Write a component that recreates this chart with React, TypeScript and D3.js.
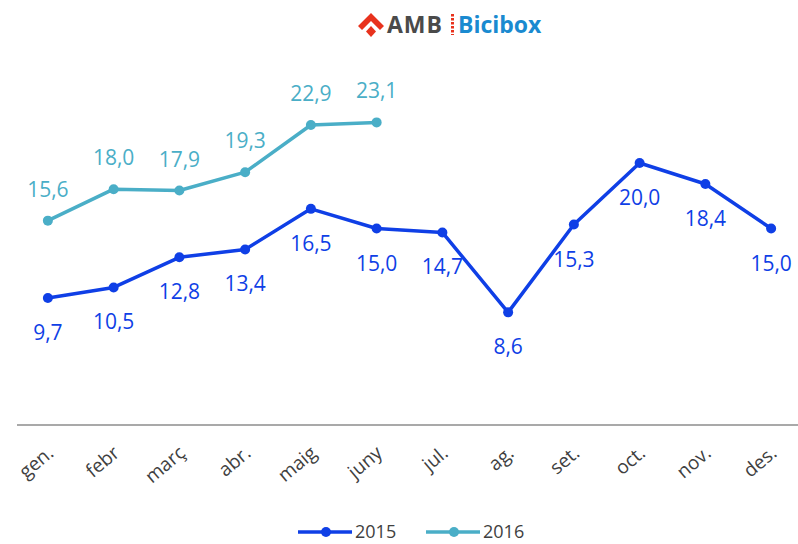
import React from "react";
import * as d3 from "d3";

const months = ["gen.", "febr", "març", "abr.", "maig", "juny", "jul.", "ag.", "set.", "oct.", "nov.", "des."];
const values2015 = [9.7, 10.5, 12.8, 13.4, 16.5, 15.0, 14.7, 8.6, 15.3, 20.0, 18.4, 15.0];
const values2016 = [15.6, 18.0, 17.9, 19.3, 22.9, 23.1];
const seriesNames = ["2015", "2016"];

const W = 798;
const H = 544;
const C2015 = "#0f3fe6";
const C2016 = "#4aaec7";
const FONT = "'Open Sans', 'Liberation Sans', sans-serif";

const fmt = (v: number) => v.toFixed(1).replace(".", ",");

export default function App() {
  const x = d3.scaleBand<string>().domain(months).range([15, 804]).padding(0);
  const cx = (m: string) => (x(m) as number) + x.bandwidth() / 2;
  const y = d3.scaleLinear().domain([0, 25]).range([425, 97.5]);

  const line = d3
    .line<[string, number]>()
    .x((d) => cx(d[0]))
    .y((d) => y(d[1]));

  const d2015: [string, number][] = values2015.map((v, i) => [months[i], v]);
  const d2016: [string, number][] = values2016.map((v, i) => [months[i], v]);

  return (
    <svg
      width={W}
      height={H}
      style={{ position: "absolute", left: 0, top: 0, background: "#fff" }}
      fontFamily={FONT}
    >
      {/* Logo */}
      <g>
        <path d="M371 13 L384 26 L380 30 L371 21 L362 30 L358 26 Z" fill="#e8321d" />
        <path d="M371 26 L376 31.5 L371 37 L366 31.5 Z" fill="#e8321d" />
        <text x={387} y={33} fontSize={23} fontWeight={700} fill="#4a4a4a" letterSpacing={1} fontFamily="'Open Sans', sans-serif">
          AMB
        </text>
        <line x1={452.5} y1={14} x2={452.5} y2={35} stroke="#e8321d" strokeWidth={3} strokeDasharray="2.5 1.5" />
        <text x={458} y={33} fontSize={23} fontWeight={700} fill="#1a8ad0" fontFamily="'Open Sans', sans-serif">
          Bicibox
        </text>
      </g>

      {/* Axis line */}
      <line x1={17} x2={798} y1={425} y2={425} stroke="#8c8c8c" strokeWidth={1.5} />

      {/* Axis labels */}
      {months.map((m) => (
        <text
          key={m}
          transform={`translate(${cx(m) + 7},${455}) rotate(-40)`}
          textAnchor="end"
          fontSize={19}
          fill="#404040"
        >
          {m}
        </text>
      ))}

      {/* 2015 */}
      <path d={line(d2015) || ""} fill="none" stroke={C2015} strokeWidth={3.5} strokeLinejoin="round" />
      {d2015.map(([m, v]) => (
        <circle key={"c15" + m} cx={cx(m)} cy={y(v)} r={5} fill={C2015} />
      ))}
      {d2015.map(([m, v]) => (
        <text key={"t15" + m} x={cx(m)} y={y(v) + 42} textAnchor="middle" fontSize={21} fill={C2015}>
          {fmt(v)}
        </text>
      ))}

      {/* 2016 */}
      <path d={line(d2016) || ""} fill="none" stroke={C2016} strokeWidth={3.5} strokeLinejoin="round" />
      {d2016.map(([m, v]) => (
        <circle key={"c16" + m} cx={cx(m)} cy={y(v)} r={5} fill={C2016} />
      ))}
      {d2016.map(([m, v]) => (
        <text key={"t16" + m} x={cx(m)} y={y(v) - 24} textAnchor="middle" fontSize={21} fill={C2016}>
          {fmt(v)}
        </text>
      ))}

      {/* Legend */}
      {seriesNames.map((s, i) => {
        const x0 = 298 + i * 128;
        const col = i === 0 ? C2015 : C2016;
        return (
          <g key={s}>
            <line x1={x0} x2={x0 + 54} y1={532} y2={532} stroke={col} strokeWidth={3.5} />
            <circle cx={x0 + 28} cy={532} r={5} fill={col} />
            <text x={x0 + 57} y={531} dominantBaseline="central" fontSize={18} fill="#404040">
              {s}
            </text>
          </g>
        );
      })}
    </svg>
  );
}
